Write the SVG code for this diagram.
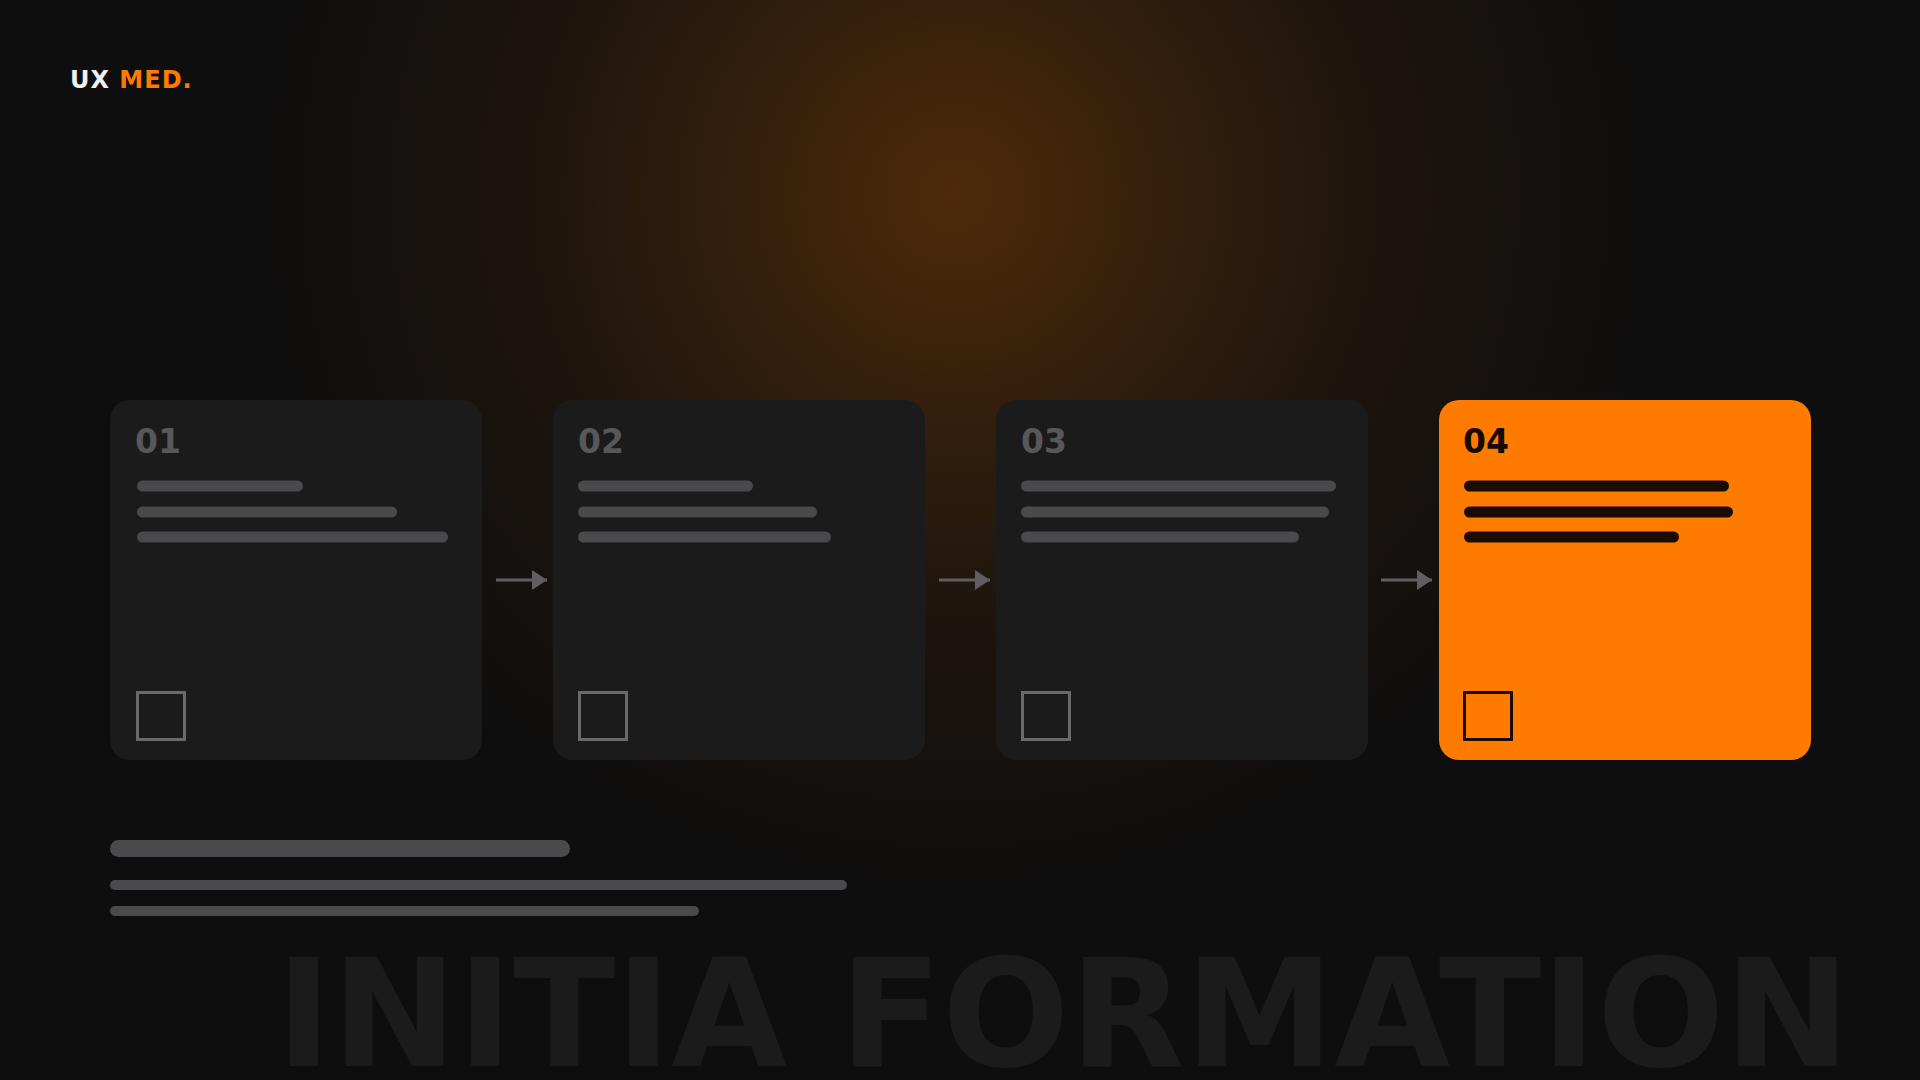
<svg xmlns="http://www.w3.org/2000/svg" width="1920" height="1080" viewBox="0 0 1920 1080">
<defs>
<radialGradient id="glow" cx="955" cy="195" r="720" gradientUnits="userSpaceOnUse">
<stop offset="0" stop-color="#ff7a00" stop-opacity="0.26"/>
<stop offset="0.3" stop-color="#ff7a00" stop-opacity="0.16"/>
<stop offset="0.6" stop-color="#ff7a00" stop-opacity="0.06"/>
<stop offset="1" stop-color="#ff7a00" stop-opacity="0"/>
</radialGradient>
<marker id="arr" markerWidth="16" markerHeight="20" refX="15" refY="10" orient="auto" markerUnits="userSpaceOnUse">
<path d="M0,0 L15,10 L0,20 Z" fill="#5f5f62"/>
</marker>
<style>
.card{fill:#1b1b1b}
.card.on{fill:#ff7b00}
.num{font-family:"DejaVu Sans",sans-serif;font-weight:bold;font-size:33px;fill:#58585a}
.on-num{fill:#140a02}
.bar{fill:#4a4a4d}
.bar.on{fill:#1a0c02}
.sq{fill:none;stroke:#6a6a6a;stroke-width:3}
.sq.on{stroke:#1a0c02}
.conn{stroke:#5f5f62;stroke-width:3;fill:none}
</style>
</defs>
<rect width="1920" height="1080" fill="#0e0e0e"/>
<rect width="1920" height="1080" fill="url(#glow)"/>
<text x="276" y="1066" font-family="DejaVu Sans, sans-serif" font-weight="bold" font-size="150" fill="#1b1b1b">INITIA FORMATION</text>
<text x="70" y="88" font-family="DejaVu Sans, sans-serif" font-weight="bold" font-size="24" letter-spacing="1"><tspan fill="#f0f0f0">UX </tspan><tspan fill="#ff7b00">MED.</tspan></text>
<g id="card1">
<rect class="card" x="110" y="400" width="372" height="360" rx="20"/>
<text class="num" x="135" y="453">01</text>
<rect class="bar" x="137" y="480.5" width="166" height="11" rx="5.5"/>
<rect class="bar" x="137" y="506.5" width="260" height="11" rx="5.5"/>
<rect class="bar" x="137" y="531.5" width="311" height="11" rx="5.5"/>
<rect class="sq" x="137.5" y="692.5" width="47" height="47"/>
</g>
<g id="card2">
<rect class="card" x="553" y="400" width="372" height="360" rx="20"/>
<text class="num" x="578" y="453">02</text>
<rect class="bar" x="578" y="480.5" width="175" height="11" rx="5.5"/>
<rect class="bar" x="578" y="506.5" width="239" height="11" rx="5.5"/>
<rect class="bar" x="578" y="531.5" width="253" height="11" rx="5.5"/>
<rect class="sq" x="579.5" y="692.5" width="47" height="47"/>
</g>
<g id="card3">
<rect class="card" x="996" y="400" width="372" height="360" rx="20"/>
<text class="num" x="1021" y="453">03</text>
<rect class="bar" x="1021" y="480.5" width="315" height="11" rx="5.5"/>
<rect class="bar" x="1021" y="506.5" width="308" height="11" rx="5.5"/>
<rect class="bar" x="1021" y="531.5" width="278" height="11" rx="5.5"/>
<rect class="sq" x="1022.5" y="692.5" width="47" height="47"/>
</g>
<g id="card4">
<rect class="card on" x="1439" y="400" width="372" height="360" rx="20"/>
<text class="num on-num" x="1463" y="453">04</text>
<rect class="bar on" x="1464" y="480.5" width="265" height="11" rx="5.5"/>
<rect class="bar on" x="1464" y="506.5" width="269" height="11" rx="5.5"/>
<rect class="bar on" x="1464" y="531.5" width="215" height="11" rx="5.5"/>
<rect class="sq on" x="1464.5" y="692.5" width="47" height="47"/>
</g>
<g id="connectors">
<line class="conn" x1="496" y1="580" x2="547" y2="580" marker-end="url(#arr)"/>
<line class="conn" x1="939" y1="580" x2="990" y2="580" marker-end="url(#arr)"/>
<line class="conn" x1="1381" y1="580" x2="1432" y2="580" marker-end="url(#arr)"/>
</g>
<g id="summary">
<rect class="bar" x="110" y="840" width="460" height="17" rx="8.5"/>
<rect class="bar" x="110" y="880" width="737" height="10" rx="5"/>
<rect class="bar" x="110" y="906" width="589" height="10" rx="5"/>
</g>
</svg>
